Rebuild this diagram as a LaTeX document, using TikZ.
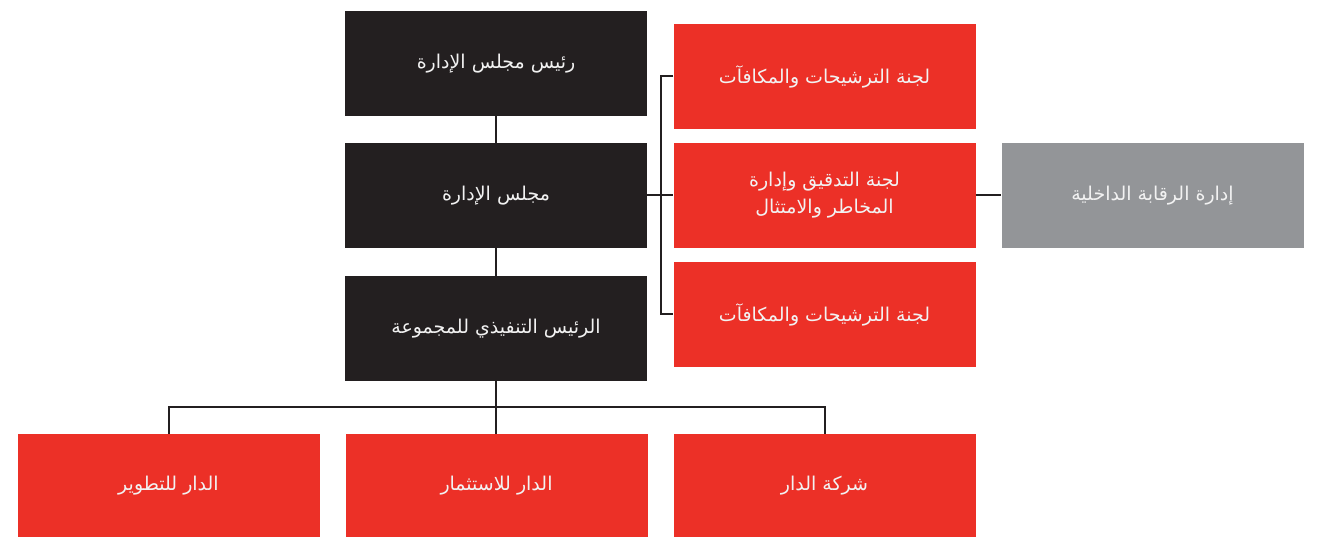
\documentclass[tikz,border=0pt]{standalone}
\usepackage{fontspec}
\TeXXeTstate=1
\newfontfamily\arabicfont[Script=Arabic]{DejaVu Sans}
\definecolor{darkbox}{HTML}{231F20}
\definecolor{redbox}{HTML}{EC3027}
\definecolor{graybox}{HTML}{939598}
\definecolor{linec}{HTML}{231F20}
\definecolor{txt}{HTML}{F2F2F2}
\tikzset{
  box/.style={minimum width=302pt, minimum height=105pt, inner sep=0pt, text=txt, align=center, font=\arabicfont\fontsize{19}{27}\selectfont},
  dbox/.style={box, fill=darkbox},
  rbox/.style={box, fill=redbox},
  gbox/.style={box, fill=graybox},
  conn/.style={draw=linec, line width=2pt}
}
\begin{document}
\begin{tikzpicture}[x=1pt,y=1pt]
\useasboundingbox (0,0) rectangle (1338,537);
\node[dbox] (chair) at (496,473.5) {\beginR رئيس مجلس الإدارة\endR};
\node[dbox] (board) at (496,341.5) {\beginR مجلس الإدارة\endR};
\node[dbox] (ceo) at (496,208.5) {\beginR الرئيس التنفيذي للمجموعة\endR};
\node[rbox] (c1) at (824.5,460.5) {\beginR لجنة الترشيحات والمكافآت\endR};
\node[rbox] (c2) at (824.5,341.5) {\beginR لجنة التدقيق وإدارة\endR\\\beginR المخاطر والامتثال\endR};
\node[rbox] (c3) at (824.5,222.5) {\beginR لجنة الترشيحات والمكافآت\endR};
\node[gbox] (audit) at (1152.5,341.5) {\beginR إدارة الرقابة الداخلية\endR};
\node[rbox, minimum height=103pt] (s1) at (168.5,51.5) {\beginR الدار للتطوير\endR};
\node[rbox, minimum height=103pt] (s2) at (496.5,51.5) {\beginR الدار للاستثمار\endR};
\node[rbox, minimum height=103pt] (s3) at (824.5,51.5) {\beginR شركة الدار\endR};
\coordinate (br) at (661,0);
\draw[conn] (chair.south) -- (board.north);
\draw[conn] (board.south) -- (ceo.north);
\draw[conn] (board.east) -- (c2.west);
\draw[conn] (c1.west) -- (c1.west -| br) -- (c3.west -| br) -- (c3.west);
\draw[conn] (c2.east) -- (audit.west);
\draw[conn] (ceo.south) -- ++(0,-26) coordinate (j);
\draw[conn] (j) -| (s1.north);
\draw[conn] (j) -| (s3.north);
\draw[conn] (j) -- (j |- s2.north);
\end{tikzpicture}
\end{document}
